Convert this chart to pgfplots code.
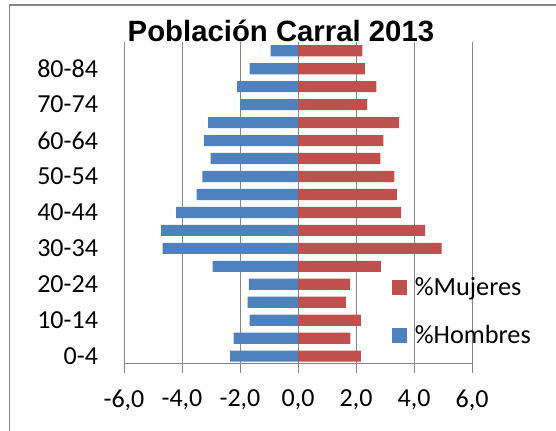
\documentclass[border=0pt]{standalone}
\usepackage{fontspec}
\setmainfont{Carlito}
\newfontfamily\titlefont{Liberation Sans}
\usepackage{pgfplots}
\pgfplotsset{compat=1.18}
\definecolor{hblue}{HTML}{4F81BD}
\definecolor{mred}{HTML}{C0504D}
\definecolor{gridg}{HTML}{868686}
\begin{document}
\begin{tikzpicture}
\useasboundingbox (0,0) rectangle (417pt,322.5pt);
\draw[gridg, line width=1.1pt] (7.3pt,-5pt) -- (7.3pt,318.8pt);
\draw[gridg, line width=1.1pt] (6.75pt,318.8pt) -- (417pt,318.8pt);
\begin{axis}[
  at={(93pt,50.25pt)}, anchor=south west,
  scale only axis, width=261pt, height=240.4pt,
  xmin=-6, xmax=6, ymin=-0.38, ymax=17.46,
  xbar, bar shift=0pt, bar width=0.62,
  axis x line*=bottom, axis y line*=left,
  axis line style={gridg, line width=0.75pt},
  xtick={-6,-4,...,6},
  xticklabels={{-6,0},{-4,0},{-2,0},{0,0},{2,0},{4,0},{6,0}},
  ytick={0,2,...,16},
  yticklabels={0-4,10-14,20-24,30-34,40-44,50-54,60-64,70-74,80-84},
  tick align=outside,
  major tick length=7.5pt,
  xtick style={gridg, line width=0.75pt},
  ytick style={draw=none},
  xmajorgrids, major grid style={gridg, line width=0.75pt},
  ticklabel style={font=\fontsize{19.5}{23}\selectfont},
  xticklabel style={yshift=-9pt},
  yticklabel style={xshift=-8.5pt},
  title={\titlefont\bfseries Población Carral 2013},
  title style={at={(0.451,1.0087)}, anchor=base, yshift=-7pt, font=\fontsize{22}{26}\selectfont},
  legend style={at={(0.77,0.275)}, anchor=north west, draw=none, fill=none,
    font=\fontsize{19.7}{23}\selectfont, row sep=16.5pt, inner sep=0pt},
  legend cell align=left,
  legend image code/.code={\fill[#1] (0pt,-5.5pt) rectangle (11pt,5.5pt); \path (15pt,0pt);},
]
\addplot[fill=mred, draw=none] coordinates {
(2.17,0) (1.81,1) (2.17,2) (1.65,3) (1.80,4) (2.86,5) (4.95,6) (4.38,7) (3.56,8)
(3.41,9) (3.32,10) (2.84,11) (2.94,12) (3.49,13) (2.38,14) (2.70,15) (2.31,16) (2.22,17)};
\addlegendentry{\%Mujeres}
\addplot[fill=hblue, draw=none] coordinates {
(-2.34,0) (-2.22,1) (-1.67,2) (-1.74,3) (-1.69,4) (-2.94,5) (-4.67,6) (-4.72,7) (-4.20,8)
(-3.50,9) (-3.30,10) (-3.01,11) (-3.25,12) (-3.10,13) (-2.00,14) (-2.10,15) (-1.67,16) (-0.94,17)};
\addlegendentry{\%Hombres}
\end{axis}
\end{tikzpicture}
\end{document}
